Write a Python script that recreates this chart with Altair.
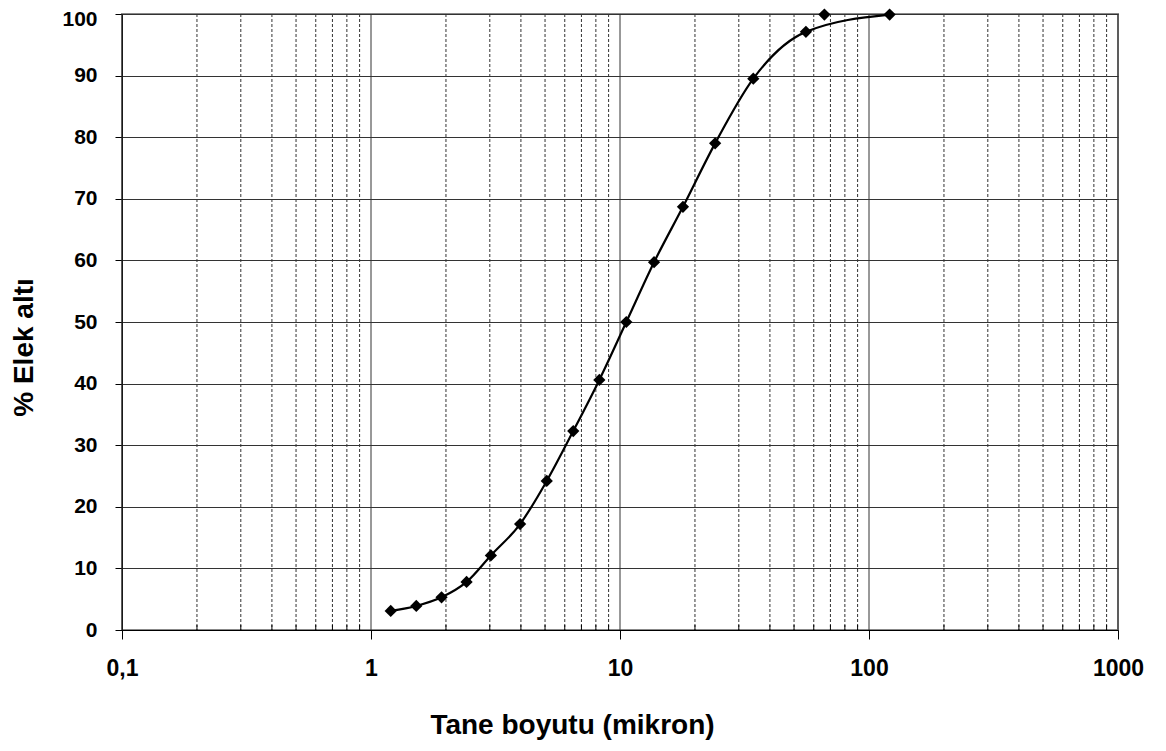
import altair as alt
import pandas as pd

# Marker data (grain size in micron, cumulative % passing)
pt_size = [1.20, 1.52, 1.92, 2.42, 3.03, 3.97, 5.08, 6.49, 8.26, 10.6, 13.7, 17.9, 24.1, 34.3, 55.8, 66.2, 121]
pt_pass = [3.1, 3.9, 5.3, 7.8, 12.1, 17.2, 24.2, 32.3, 40.6, 50.0, 59.7, 68.7, 79.0, 89.5, 97.1, 99.9, 99.9]

# Smoothed curve series
ln_size = [1.20, 1.52, 1.92, 2.42, 3.03, 3.97, 5.08, 6.49, 8.26, 10.6, 13.7, 17.9, 24.1, 34.3, 55.8, 121]
ln_pass = [3.1, 3.9, 5.3, 7.8, 12.1, 17.2, 24.2, 32.3, 40.6, 50.0, 59.7, 68.7, 79.0, 89.5, 97.1, 99.9]

decades = [0.1, 1, 10, 100, 1000]
minor = [m * d for d in [0.1, 1, 10, 100] for m in range(2, 10)]
y_ticks = list(range(0, 101, 10))

pts = pd.DataFrame({"x": pt_size, "y": pt_pass})
lns = pd.DataFrame({"x": ln_size, "y": ln_pass})
maj = pd.DataFrame({"x": decades})
mnr = pd.DataFrame({"x": minor})

FONT = "Liberation Sans"
xscale = alt.Scale(type="log", domain=[0.1, 1000], nice=False)
yscale = alt.Scale(domain=[0, 100], nice=False)

x_axis = alt.Axis(
    values=decades,
    title="Tane boyutu  (mikron)",
    labelExpr="datum.value < 1 ? '0,1' : format(datum.value, 'd')",
    grid=False,
    tickSize=9,
    tickColor="black",
    domainColor="black",
    labelFont=FONT,
    labelFontSize=23,
    labelFontWeight="bold",
    labelColor="black",
    labelPadding=18,
    titleFont=FONT,
    titleFontSize=28,
    titleFontWeight="bold",
    titleColor="black",
    titleX=450,
    titleY=103,
    titleAlign="center",
    titleBaseline="alphabetic",
    labelFlush=False,
    labelOverlap=False,
)

y_axis = alt.Axis(
    values=y_ticks,
    title="% Elek altı",
    grid=True,
    gridColor="#333333",
    gridWidth=1,
    tickSize=7,
    tickColor="black",
    domainColor="black",
    labelFont=FONT,
    labelFontSize=21,
    labelFontWeight="bold",
    labelColor="black",
    labelPadding=18,
    labelOffset={"condition": {"test": "datum.value == 100", "value": 5}, "value": 0},
    titleFont=FONT,
    titleFontSize=28,
    titleFontWeight="bold",
    titleColor="black",
    titleX=-98,
    titleY=333,
    titleAngle=-90,
    titleAlign="center",
    titleBaseline="middle",
    labelFlush=False,
    labelOverlap=False,
)

X = alt.X("x:Q", scale=xscale, axis=x_axis, title="Tane boyutu  (mikron)")
Y = alt.Y("y:Q", scale=yscale, axis=y_axis, title="% Elek altı")

major_grid = alt.Chart(maj).mark_rule(color="#333333", strokeWidth=1).encode(x=X)
minor_grid = alt.Chart(mnr).mark_rule(color="#333333", strokeWidth=1, strokeDash=[3, 2]).encode(x=X)
minor_ticks = alt.Chart(mnr).mark_rule(color="black", strokeWidth=1).encode(
    x=X,
    y=alt.value(616),
    y2=alt.value(611),
)

line = alt.Chart(lns).mark_line(color="black", strokeWidth=2.2, interpolate="monotone").encode(x=X, y=Y)

points = alt.Chart(pts).mark_point(shape="diamond", filled=True, color="black", size=150, opacity=1).encode(x=X, y=Y)

chart = (
    alt.layer(minor_grid, major_grid, line, points, minor_ticks)
    .properties(
        width=996,
        height=616,
        autosize=alt.AutoSizeParams(type="none"),
        padding={"left": 114, "top": 6, "right": 40, "bottom": 113},
        background="white",
    )
    .configure_view(stroke="#888888", strokeWidth=2)
)

chart.save("out.html", embed_options={"renderer": "svg", "actions": False})
